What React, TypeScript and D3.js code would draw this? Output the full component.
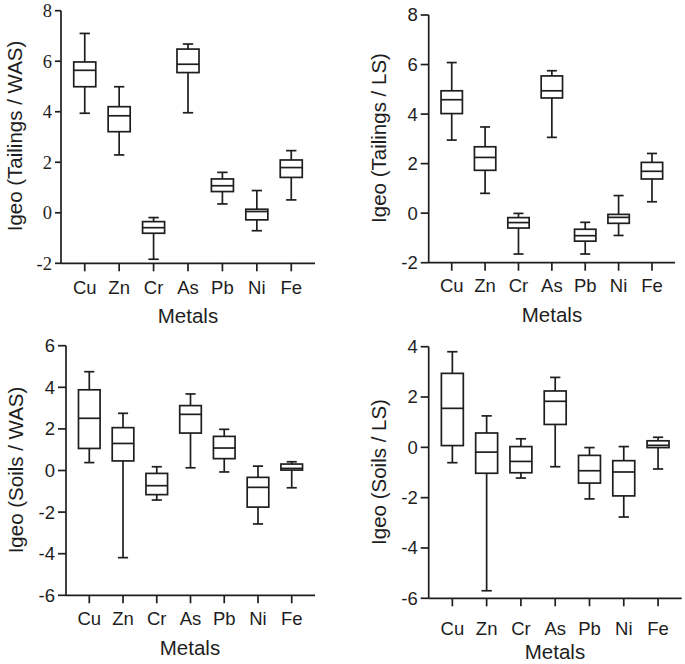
import React from "react";
import * as d3 from "d3";

const metals = ["Cu", "Zn", "Cr", "As", "Pb", "Ni", "Fe"];

// [min, q1, median, q3, max] per metal
const tailingsWAS = [
  [3.94, 4.99, 5.64, 5.97, 7.1],
  [2.29, 3.21, 3.84, 4.2, 4.99],
  [-1.84, -0.81, -0.59, -0.35, -0.19],
  [3.96, 5.55, 5.88, 6.48, 6.68],
  [0.35, 0.84, 1.07, 1.34, 1.6],
  [-0.71, -0.28, 0.05, 0.14, 0.88],
  [0.51, 1.4, 1.79, 2.09, 2.46],
];
const tailingsLS = [
  [2.95, 4.02, 4.58, 4.94, 6.08],
  [0.8, 1.73, 2.25, 2.68, 3.48],
  [-1.65, -0.6, -0.38, -0.18, -0.01],
  [3.06, 4.65, 4.94, 5.54, 5.75],
  [-1.65, -1.13, -0.91, -0.65, -0.37],
  [-0.9, -0.41, -0.17, -0.05, 0.71],
  [0.46, 1.38, 1.69, 2.05, 2.41],
];
const soilsWAS = [
  [0.38, 1.06, 2.51, 3.88, 4.75],
  [-4.19, 0.46, 1.3, 2.06, 2.75],
  [-1.42, -1.16, -0.73, -0.14, 0.18],
  [0.13, 1.8, 2.7, 3.12, 3.68],
  [-0.07, 0.57, 1.08, 1.64, 1.98],
  [-2.57, -1.76, -0.81, -0.33, 0.21],
  [-0.83, 0.02, 0.1, 0.31, 0.42],
];
const soilsLS = [
  [-0.61, 0.07, 1.55, 2.94, 3.8],
  [-5.7, -1.03, -0.19, 0.57, 1.25],
  [-1.22, -1.01, -0.56, 0.03, 0.34],
  [-0.77, 0.91, 1.83, 2.24, 2.78],
  [-2.05, -1.42, -0.93, -0.32, -0.01],
  [-2.77, -1.93, -0.98, -0.53, 0.03],
  [-0.86, -0.01, 0.08, 0.26, 0.4],
];

const ticksTailings = [8, 6, 4, 2, 0, -2];
const ticksSoilsWAS = [6, 4, 2, 0, -2, -4, -6];
const ticksSoilsLS = [4, 2, 0, -2, -4, -6];

const yLabels = [
  "Igeo (Tailings / WAS)",
  "Igeo (Tailings / LS)",
  "Igeo (Soils / WAS)",
  "Igeo (Soils / LS)",
];
const xLabel = "Metals";

const SANS = "'Liberation Sans', Arial, sans-serif";
const SERIF = "'Liberation Serif', 'Times New Roman', serif";
const INK = "#1e1e1e";

type PanelCfg = {
  data: number[][];
  ticks: number[];
  yLabel: string;
  x0: number;
  x1: number;
  yTop: number;
  yBot: number;
  tickFont: string;
  yLabelX: number;
  yLabelY: number;
  catY: number;
  titleX: number;
  titleY: number;
  tickLen: number;
  tickGap: number;
};

function Panel({ cfg }: { cfg: PanelCfg }) {
  const { data, ticks } = cfg;
  const y = d3
    .scaleLinear()
    .domain([d3.min(ticks)!, d3.max(ticks)!])
    .range([cfg.yBot, cfg.yTop]);
  const x = d3.scalePoint<string>().domain(metals).range([cfg.x0, cfg.x1]).padding(0.69);
  const step = x.step();
  const bw = step * 0.64;
  const cw = bw * 0.47;
  const sw = 1.7;
  return (
    <g>
      {/* axes */}
      <line x1={cfg.x0} x2={cfg.x0} y1={cfg.yTop} y2={cfg.yBot} stroke={INK} strokeWidth={sw} />
      <line x1={cfg.x0} x2={cfg.x1} y1={cfg.yBot} y2={cfg.yBot} stroke={INK} strokeWidth={sw} />
      {ticks.map((t) => (
        <g key={t}>
          <line
            x1={cfg.x0 - cfg.tickLen}
            x2={cfg.x0}
            y1={y(t)}
            y2={y(t)}
            stroke={INK}
            strokeWidth={sw}
          />
          <text
            x={cfg.x0 - cfg.tickLen - cfg.tickGap}
            y={y(t)}
            dy="0.35em"
            textAnchor="end"
            fontFamily={cfg.tickFont}
            fontSize={18.5}
            fill={INK}
          >
            {String(t)}
          </text>
        </g>
      ))}
      {metals.map((m) => (
        <g key={m}>
          <line
            x1={x(m)}
            x2={x(m)}
            y1={cfg.yBot}
            y2={cfg.yBot + 8}
            stroke={INK}
            strokeWidth={sw}
          />
          <text
            x={x(m)}
            y={cfg.catY}
            textAnchor="middle"
            fontFamily={SANS}
            fontSize={18.5}
            fill={INK}
          >
            {m}
          </text>
        </g>
      ))}
      {/* boxes */}
      {data.map((s, i) => {
        const cx = x(metals[i])!;
        const [mn, q1, md, q3, mx] = s;
        return (
          <g key={i} stroke={INK} strokeWidth={sw} fill="none">
            <line x1={cx} x2={cx} y1={y(mx)} y2={y(q3)} />
            <line x1={cx} x2={cx} y1={y(q1)} y2={y(mn)} />
            <line x1={cx - cw / 2} x2={cx + cw / 2} y1={y(mx)} y2={y(mx)} />
            <line x1={cx - cw / 2} x2={cx + cw / 2} y1={y(mn)} y2={y(mn)} />
            <rect x={cx - bw / 2} y={y(q3)} width={bw} height={y(q1) - y(q3)} fill="white" />
            <line x1={cx - bw / 2} x2={cx + bw / 2} y1={y(md)} y2={y(md)} />
          </g>
        );
      })}
      <text
        transform={`translate(${cfg.yLabelX},${cfg.yLabelY}) rotate(-90)`}
        textAnchor="middle"
        fontFamily={SANS}
        fontSize={20.5}
        fill={INK}
      >
        {cfg.yLabel}
      </text>
      <text
        x={cfg.titleX}
        y={cfg.titleY}
        textAnchor="middle"
        fontFamily={SANS}
        fontSize={20.5}
        fill={INK}
      >
        {xLabel}
      </text>
    </g>
  );
}

const panels: PanelCfg[] = [
  {
    data: tailingsWAS,
    ticks: ticksTailings,
    yLabel: yLabels[0],
    x0: 61,
    x1: 315,
    yTop: 10.7,
    yBot: 263.3,
    tickFont: SERIF,
    yLabelX: 21.5,
    yLabelY: 136,
    catY: 293.5,
    titleX: 188,
    titleY: 323,
    tickLen: 6,
    tickGap: 3,
  },
  {
    data: tailingsLS,
    ticks: ticksTailings,
    yLabel: yLabels[1],
    x0: 428.7,
    x1: 675,
    yTop: 15,
    yBot: 262.7,
    tickFont: SANS,
    yLabelX: 386,
    yLabelY: 138,
    catY: 292,
    titleX: 552,
    titleY: 322,
    tickLen: 8,
    tickGap: 3,
  },
  {
    data: soilsWAS,
    ticks: ticksSoilsWAS,
    yLabel: yLabels[2],
    x0: 66,
    x1: 315,
    yTop: 345.7,
    yBot: 595.3,
    tickFont: SANS,
    yLabelX: 23,
    yLabelY: 470,
    catY: 625,
    titleX: 190,
    titleY: 655,
    tickLen: 8,
    tickGap: 3,
  },
  {
    data: soilsLS,
    ticks: ticksSoilsLS,
    yLabel: yLabels[3],
    x0: 428.7,
    x1: 681.7,
    yTop: 346.7,
    yBot: 598.3,
    tickFont: SANS,
    yLabelX: 386,
    yLabelY: 472,
    catY: 635,
    titleX: 555,
    titleY: 659,
    tickLen: 8,
    tickGap: 3,
  },
];

export default function App() {
  return (
    <svg
      width={685}
      height={664}
      viewBox="0 0 685 664"
      style={{ position: "absolute", left: 0, top: 0, background: "white" }}
    >
      <rect width={685} height={664} fill="white" />
      {panels.map((p, i) => (
        <Panel key={i} cfg={p} />
      ))}
    </svg>
  );
}
